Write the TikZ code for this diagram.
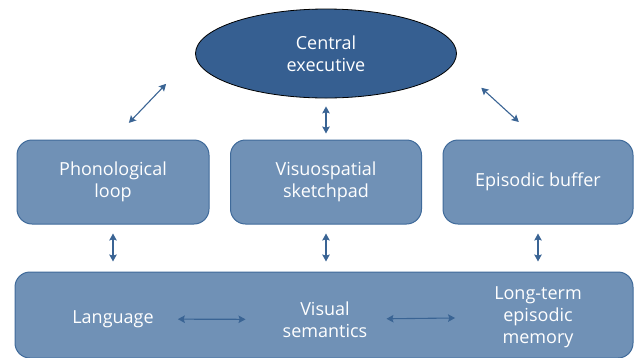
\documentclass[tikz,border=0pt]{standalone}
\usepackage{fontspec}
\setmainfont{Open Sans}
\usetikzlibrary{shapes.geometric,arrows.meta}
\definecolor{boxfill}{HTML}{7091B6}
\definecolor{boxline}{HTML}{3F6A9A}
\definecolor{cefill}{HTML}{365F91}
\definecolor{linkc}{HTML}{3A6494}
\begin{document}
\begin{tikzpicture}[x=1pt,y=-1pt,>={Stealth[length=7pt,width=7.5pt,inset=1.2pt]}, font=\fontsize{18}{22}\selectfont, line join=round, line cap=round,
	unit/.style={draw=boxline,line width=1pt,fill=boxfill,rounded corners=15pt,text=white,align=center,inner sep=0pt},
	lbl/.style={text=white,align=center,inner sep=0pt},
	link/.style={<->,draw=linkc,line width=1.1pt}]
	\useasboundingbox (0,0) rectangle (634,357);
	% central executive
	\node[ellipse,draw=black,line width=0.8pt,fill=cefill,text=white,align=center,inner sep=0pt,minimum width=261pt,minimum height=89pt] (ce) at (326,53.5) {Central\\executive};
	% slave systems
	\node[unit,minimum width=192pt,minimum height=84pt] (pl) at (113,182) {Phonological\\loop};
	\node[unit,minimum width=191pt,minimum height=84pt] (vs) at (326,182) {Visuospatial\\sketchpad};
	\node[unit,minimum width=190pt,minimum height=84pt] (eb) at (538,182) {Episodic buffer};
	% long-term memory
	\node[unit,minimum width=618pt,minimum height=86pt] (ltm) at (324,315) {};
	\node[lbl] (lang) at (113,319) {Language};
	\node[lbl] (vsem) at (325,319.5) {Visual\\semantics};
	\node[lbl] (epi) at (538,317) {Long-term\\episodic\\memory};
	% arrows
	\draw[link,shorten <=23pt,shorten >=42pt] (pl.north) -- (ce.west);
	\draw[link,shorten <=8pt,shorten >=6pt] (ce.south) -- (vs.north);
	\draw[link,shorten <=26pt,shorten >=33pt] (eb.north) -- ([yshift=-12pt]ce.east);
	\foreach \n in {pl,vs,eb}{
		\draw[link,shorten <=9pt,shorten >=10pt] (\n.south) -- (\n.south |- ltm.north);
	}
	\draw[link,shorten <=24pt,shorten >=37pt] (lang) -- (vsem);
	\draw[link,shorten <=19pt,shorten >=39pt] (vsem) -- (epi);
\end{tikzpicture}
\end{document}
